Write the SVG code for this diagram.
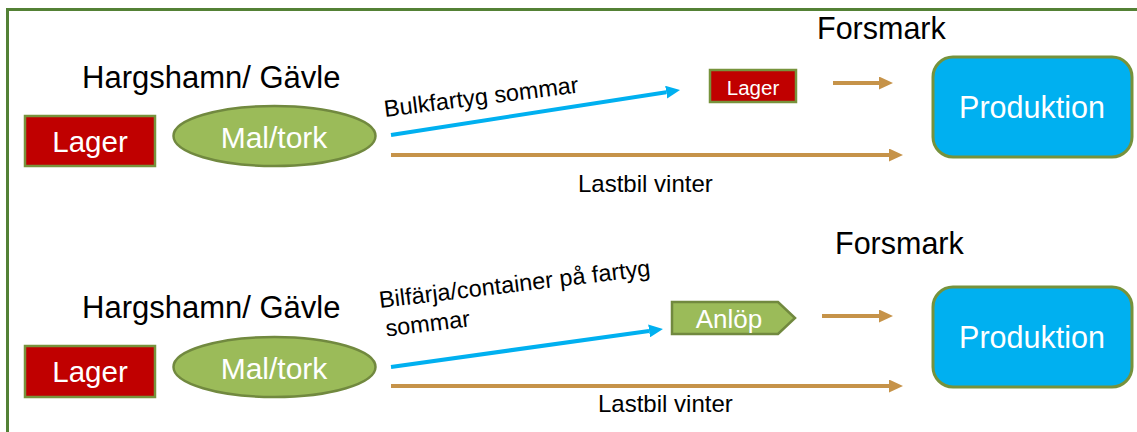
<svg xmlns="http://www.w3.org/2000/svg" width="1137" height="432" viewBox="0 0 1137 432">
  <style>
    .frame { fill: none; stroke: #538135; stroke-width: 3; }
    .lager { fill: #C00000; stroke: #77933C; stroke-width: 2.5; }
    .mill { fill: #9BBB59; stroke: #71893F; stroke-width: 2.5; }
    .prod { fill: #00B0F0; stroke: #76923C; stroke-width: 3; }
    .wt { fill: #FFFFFF; font-family: "Liberation Sans", Arial, sans-serif; text-anchor: middle; }
    .bt { fill: #000000; font-family: "Liberation Sans", Arial, sans-serif; }
    .sea { stroke: #00B0F0; stroke-width: 4; fill: none; marker-end: url(#headBlue); }
    .road { stroke: #C69349; stroke-width: 4; fill: none; marker-end: url(#headBrown); }
  </style>
  <defs>
    <marker id="headBlue" viewBox="0 -6.5 14 13" refX="0" refY="0" markerWidth="14" markerHeight="13" markerUnits="userSpaceOnUse" orient="auto">
      <path d="M0,-6.5 L14,0 L0,6.5 z" fill="#00B0F0"/>
    </marker>
    <marker id="headBrown" viewBox="0 -6.5 14 13" refX="0" refY="0" markerWidth="14" markerHeight="13" markerUnits="userSpaceOnUse" orient="auto">
      <path d="M0,-6.5 L14,0 L0,6.5 z" fill="#C69349"/>
    </marker>
  </defs>

  <rect width="1137" height="432" fill="#FFFFFF"/>
  <path class="frame" d="M7.5,432 V9.5 H1137"/>

  <!-- place labels -->
  <text class="bt" x="82" y="88" font-size="31">Hargshamn/ Gävle</text>
  <text class="bt" x="817" y="39" font-size="30.5">Forsmark</text>
  <text class="bt" x="82" y="318" font-size="31">Hargshamn/ Gävle</text>
  <text class="bt" x="835" y="254" font-size="30.5">Forsmark</text>

  <!-- summer route (top) -->
  <g id="lager-top">
    <rect class="lager" x="25" y="116" width="130" height="50"/>
    <text class="wt" x="90" y="152" font-size="29.5">Lager</text>
  </g>
  <g id="maltork-top">
    <ellipse class="mill" cx="274.5" cy="136" rx="101" ry="30"/>
    <text class="wt" x="274" y="147.5" font-size="30">Mal/tork</text>
  </g>
  <g id="lager-forsmark">
    <rect class="lager" x="710" y="70" width="86" height="32"/>
    <text class="wt" x="753" y="94.5" font-size="20.5">Lager</text>
  </g>
  <g id="produktion-top">
    <rect class="prod" x="933" y="57" width="199" height="100" rx="20" ry="20"/>
    <text class="wt" x="1032" y="118" font-size="30.5">Produktion</text>
  </g>

  <!-- winter/ferry route (bottom) -->
  <g id="lager-bottom">
    <rect class="lager" x="25" y="346" width="130" height="51"/>
    <text class="wt" x="90" y="382" font-size="29.5">Lager</text>
  </g>
  <g id="maltork-bottom">
    <ellipse class="mill" cx="274.5" cy="367" rx="101" ry="30"/>
    <text class="wt" x="274" y="378.5" font-size="30">Mal/tork</text>
  </g>
  <g id="anlop">
    <path class="mill" d="M672,302 H778 L795,318 L778,334 H672 z"/>
    <text class="wt" x="729" y="327.5" font-size="26">Anlöp</text>
  </g>
  <g id="produktion-bottom">
    <rect class="prod" x="933" y="287" width="199" height="100" rx="20" ry="20"/>
    <text class="wt" x="1032" y="348" font-size="30.5">Produktion</text>
  </g>

  <!-- transport connectors -->
  <g id="connectors">
    <line class="sea" x1="391" y1="135" x2="666.2" y2="92.2"/>
    <line class="road" x1="391" y1="155" x2="889" y2="155"/>
    <line class="road" x1="833" y1="83" x2="879" y2="83"/>
    <line class="sea" x1="391" y1="367" x2="649.1" y2="330.9"/>
    <line class="road" x1="391" y1="386" x2="889" y2="386"/>
    <line class="road" x1="822" y1="316" x2="879" y2="316"/>

    <text class="bt" font-size="23.5" transform="translate(385,117) rotate(-7.2)">Bulkfartyg sommar</text>
    <text class="bt" x="578" y="192" font-size="24">Lastbil vinter</text>
    <g transform="translate(380,308) rotate(-6.8)">
      <text class="bt" x="0" y="0" font-size="23.5">Bilfärja/container på fartyg</text>
      <text class="bt" x="3" y="29" font-size="23.5">sommar</text>
    </g>
    <text class="bt" x="598" y="412" font-size="24">Lastbil vinter</text>
  </g>
</svg>
